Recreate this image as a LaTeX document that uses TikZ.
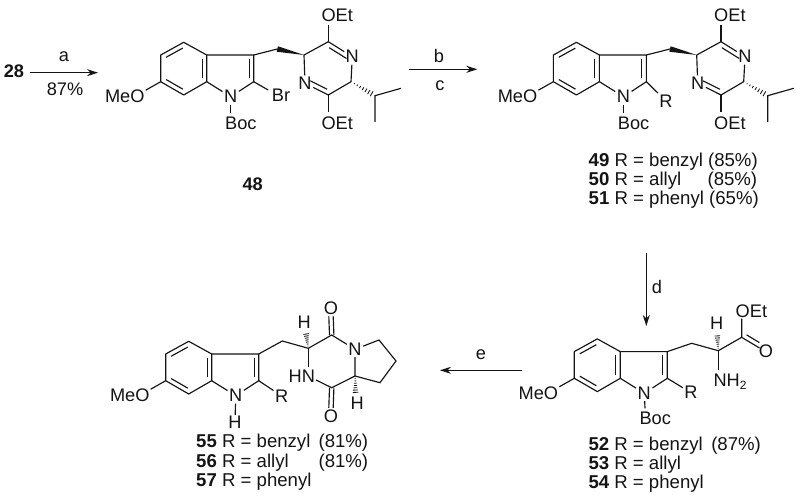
\documentclass[tikz,border=0pt]{standalone}
\usepackage{fontspec}
\setmainfont{Liberation Sans}
\usetikzlibrary{calc,arrows.meta}
\definecolor{ink}{gray}{0.08}
\newcommand\lab{\fontsize{18.2}{20}\selectfont}
\newcommand\captxt{\fontsize{18.6}{20}\selectfont}
\newcommand\dbl[3]{\draw[bond] ($(#1)!.14!(#2)!4.6pt!#3:(#2)$) -- ($(#1)!.86!(#2)!4.6pt!#3:(#2)$);}
\newcommand\hashb[2]{\foreach \t in {.14,.26,.38,.50,.62,.74,.86,1}{%
  \draw[line width=.85pt,ink] ($(#1)!\t!(#2)!{\t*3.2pt}!90:(#2)$) -- ($(#1)!\t!(#2)!{\t*3.2pt}!-90:(#2)$);}}
\newcommand\wedgeb[2]{\fill[ink] (#2) -- ($(#1)!2.8pt!90:(#2)$) -- ($(#1)!2.8pt!-90:(#2)$) -- cycle;}
\newcommand\indole[1]{%
  \coordinate (#1c6) at (0,0);
  \coordinate (#1c5) at (0,-26.7);
  \coordinate (#1c4) at (23,-39.4);
  \coordinate (#1c3a) at (46,-26.7);
  \coordinate (#1c7a) at (46,0);
  \coordinate (#1c7) at (23,13.3);
  \coordinate (#1c2) at (93,0);
  \coordinate (#1c3) at (93,-26.7);
  \coordinate (#1mb) at (-15,8.5);
  \node[atom] (#1n) at (70,15) {N};
  \draw[bond,line join=round] (#1c6) -- (#1c5) -- (#1c4) -- (#1c3a) -- (#1c7a) -- (#1c7) -- cycle;
  \draw[bond] (#1c3a) -- (#1c3) -- (#1c2) -- (#1n) -- (#1c7a);
  \draw[bond] (#1c6) -- (#1mb);
  \dbl{#1c5}{#1c4}{-90}
  \dbl{#1c3a}{#1c7a}{-90}
  \dbl{#1c7}{#1c6}{-90}
  \dbl{#1c2}{#1c3}{90}
  \node[txt,anchor=base east] (#1me) at (-16,21) {MeO};
}
\newcommand\pyraz[1]{%
  \coordinate (#1ch2) at (277.3,49);
  \coordinate (#1a) at (304,55);
  \coordinate (#1b) at (328.3,41.7);
  \coordinate (#1d) at (351,81.7);
  \coordinate (#1e) at (328.3,95);
  \coordinate (#1ipr) at (375,95.7);
  \coordinate (#1me1) at (375,122);
  \coordinate (#1me2) at (401,88.3);
  \coordinate (#1ob) at (328.3,25.5);
  \coordinate (#1ob2) at (328.3,112);
  \node[atom] (#1nt) at (352.3,56.7) {N};
  \node[atom] (#1nb) at (305,83.3) {N};
  \node[txt] (#1oet) at (321.3,21.7) {OEt};
  \node[txt] (#1oetb) at (321.3,129.3) {OEt};
  \draw[bond] (#1a) -- (#1b) -- (#1nt) -- (#1d) -- (#1e) -- (#1nb) -- (#1a);
  \dbl{#1b}{#1nt}{-90}
  \dbl{#1e}{#1nb}{-90}
  \draw[bond] (#1b) -- (#1ob);
  \draw[bond] (#1e) -- (#1ob2);
  \draw[bond] (#1me1) -- (#1ipr) -- (#1me2);
  \wedgeb{#1ch2}{#1a}
  \hashb{#1d}{#1ipr}
}
\tikzset{
  bond/.style={line width=1.15pt,ink},
  atom/.style={inner sep=1.4pt,font=\lab,text=ink},
  txt/.style={inner sep=0pt,anchor=base west,font=\lab,text=ink},
  ctr/.style={inner sep=0pt,font=\lab,text=ink},
  cpt/.style={inner sep=0pt,anchor=base west,font=\captxt,text=ink},
  rxn/.style={line width=1.15pt,ink,-{Stealth[length=11pt,width=7pt]}}
}
\begin{document}
\begin{tikzpicture}[x=1pt,y=-1pt]
\useasboundingbox[fill=white] (0,0) rectangle (800,500);

% ---- 28 -> 48
\node[ctr,font=\lab\bfseries] (n28) at (14,71.7) {28};
\coordinate (a1) at (30,72.7);
\coordinate (a2) at (98,72.7);
\draw[rxn] (a1) -- (a2);
\node[ctr] (la) at (64,57) {a};
\node[ctr] (l87) at (65,89) {87\%};

% ---- 48
\begin{scope}[shift={(160.7,81.7)}]
  \indole{A}
  \node[txt] (Aboc) at (64.3,48.3) {Boc};
  \coordinate (Abb) at (70,31);
  \draw[bond] (An) -- (Abb);
  \node[txt] (Abr) at (111,20.3) {Br};
  \coordinate (Abe) at (107.5,8.3);
  \draw[bond] (Ac2) -- (Abe);
\end{scope}
\pyraz{P}
\draw[bond] (Ac3) -- (Pch2);
\node[ctr,font=\lab\bfseries] (n48) at (252.7,184) {48};

% ---- b,c
\coordinate (b1) at (409.3,69.3);
\coordinate (b2) at (477.3,69.3);
\draw[rxn] (b1) -- (b2);
\node[ctr] (lb) at (439,56) {b};
\node[ctr] (lc) at (440,86) {c};

% ---- 49-51
\begin{scope}[shift={(553.4,81.7)}]
  \indole{B}
  \node[txt] (Bboc) at (64.3,48.3) {Boc};
  \coordinate (Bbb) at (70,31);
  \draw[bond] (Bn) -- (Bbb);
  \node[atom] (Br) at (112.5,19.3) {R};
  \draw[bond] (Bc2) -- (Br);
\end{scope}
\begin{scope}[shift={(392.7,0)}]
  \pyraz{Q}
\end{scope}
\draw[bond] (Bc3) -- (Qch2);
\node[cpt] (t49) at (588.5,166) {\textbf{49} R = benzyl (85\%)};
\node[cpt] (t50) at (588.5,185) {\hbox to 168.5pt{\textbf{50} R = allyl\hfill(85\%)}};
\node[cpt] (t51) at (588.5,204) {\textbf{51} R = phenyl (65\%)};

% ---- d
\coordinate (d1) at (646.3,253);
\coordinate (d2) at (646.3,326);
\draw[rxn] (d1) -- (d2);
\node[ctr] (ld) at (657,286.7) {d};

% ---- 52-54
\begin{scope}[shift={(574.3,378.3)}]
  \indole{C}
  \node[txt] (Cboc) at (65,46) {Boc};
  \coordinate (Cbb) at (70.7,30);
  \draw[bond] (Cn) -- (Cbb);
  \node[atom] (Cr) at (116.7,14.4) {R};
  \draw[bond] (Cc2) -- (Cr);
\end{scope}
\coordinate (Cch2) at (691.7,343.3);
\coordinate (Cch) at (718.3,350.7);
\coordinate (Cco) at (741.7,337.3);
\coordinate (Cob) at (741.7,318.5);
\coordinate (Cnb) at (718.3,370);
\coordinate (Che) at (717.3,333.5);
\coordinate (Coa) at (759.5,348);
\node[txt] (Coet) at (735.5,317.5) {OEt};
\node[atom] (Co) at (766,351.7) {O};
\node[atom] (Ch) at (716.7,323) {H};
\node[txt] (Cnh) at (713.3,386) {NH\raisebox{-3.5pt}{\fontsize{12}{12}\selectfont 2}};
\draw[bond] (Cc3) -- (Cch2) -- (Cch) -- (Cco) -- (Cob);
\draw[bond] (Cch) -- (Cnb);
\draw[bond] (Cco) -- (Coa);
\dbl{Cco}{Coa}{90}
\hashb{Cch}{Che}
\node[cpt] (t52) at (588.3,450.3) {\hbox to 172.4pt{\textbf{52} R = benzyl\hfill(87\%)}};
\node[cpt] (t53) at (588.3,469.3) {\textbf{53} R = allyl};
\node[cpt] (t54) at (588.3,488.7) {\textbf{54} R = phenyl};

% ---- e
\coordinate (e1) at (521.7,370.3);
\coordinate (e2) at (440,370.3);
\draw[rxn] (e1) -- (e2);
\node[ctr] (le) at (481,355) {e};

% ---- 55-57
\begin{scope}[shift={(165.7,380.7)}]
  \indole{D}
  \node[atom] (Dh) at (69.3,42) {H};
  \node[atom] (Dr) at (116,15.3) {R};
  \draw[bond] (Dn) -- (Dh);
  \draw[bond] (Dc2) -- (Dr);
\end{scope}
\coordinate (Dch2) at (282.3,341);
\coordinate (Dch) at (308.3,348.3);
\coordinate (Dcot) at (331.7,335);
\coordinate (Dcob) at (331.7,387.7);
\coordinate (Dcc) at (355,376);
\coordinate (Dp1) at (379,340);
\coordinate (Dp2) at (396,361);
\coordinate (Dp3) at (380,382.7);
\coordinate (Dnh1) at (308.3,367);
\coordinate (Dnh2) at (316,380);
\coordinate (Dhte) at (305.7,331.7);
\coordinate (Dhbe) at (355.8,395);
\node[atom] (Dnn) at (355,349.3) {N};
\node[atom] (Dot) at (331,308.3) {O};
\node[atom] (Dob) at (331,416) {O};
\node[atom] (Dht) at (304.3,322) {H};
\node[atom] (Dhb) at (357.3,403.5) {H};
\node[txt] (Dhn) at (288.5,382.3) {HN};
\draw[bond] (Dc3) -- (Dch2) -- (Dch) -- (Dcot) -- (Dnn) -- (Dcc) -- (Dcob) -- (Dnh2);
\draw[bond] (Dch) -- (Dnh1);
\draw[bond] (Dnn) -- (Dp1) -- (Dp2) -- (Dp3) -- (Dcc);
\draw[bond] ($(Dcot)+(-2.2,0)$) -- ($(Dot.south)+(-2.2,0)$);
\draw[bond] ($(Dcot)+(2.2,0)$) -- ($(Dot.south)+(2.2,0)$);
\draw[bond] ($(Dcob)+(-2.2,0)$) -- ($(Dob.north)+(-2.2,0)$);
\draw[bond] ($(Dcob)+(2.2,0)$) -- ($(Dob.north)+(2.2,0)$);
\hashb{Dch}{Dhte}
\hashb{Dcc}{Dhbe}
\node[cpt] (t55) at (196,447.7) {\hbox to 172pt{\textbf{55} R = benzyl\hfill(81\%)}};
\node[cpt] (t56) at (196,467) {\hbox to 172pt{\textbf{56} R = allyl\hfill(81\%)}};
\node[cpt] (t57) at (196,486.7) {\textbf{57} R = phenyl};
\end{tikzpicture}
\end{document}
